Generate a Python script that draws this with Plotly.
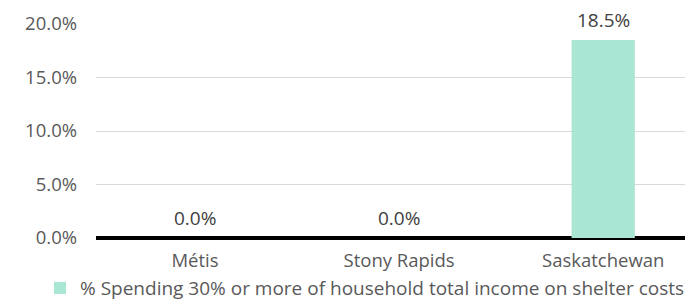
import plotly.graph_objects as go

categories = ["Métis", "Stony Rapids", "Saskatchewan"]
values = [0.0, 0.0, 0.185]
series_name = "% Spending 30% or more of household total income on shelter costs"
tick_vals = [0, 0.05, 0.10, 0.15, 0.20]
tick_text = ["0.0%", "5.0%", "10.0%", "15.0%", "20.0%"]

font_family = "Open Sans"
grey = "#595959"

fig = go.Figure()
fig.add_trace(go.Bar(
    x=categories, y=values, name=series_name,
    marker=dict(color="#a9e6d3", line=dict(width=0)), width=0.31,
    showlegend=True,
))

for c, v in zip(categories, values):
    fig.add_annotation(
        x=c, y=v, text=f"{v*100:.1f}%", showarrow=False,
        yanchor="bottom", yshift=6, borderpad=0,
        font=dict(family=font_family, size=19, color="#404040"),
    )

# page body has an 8px default margin, so the figure is sized to fit the window
fig.update_layout(
    width=685, height=292,
    margin=dict(l=88, r=0, t=16, b=62, autoexpand=False),
    paper_bgcolor="white", plot_bgcolor="white",
    font=dict(family=font_family, size=18, color=grey),
    xaxis=dict(range=[-0.485, 2.44], showgrid=False, showline=False,
               tickfont=dict(size=18.5, color=grey), ticks="",
               ticklabelstandoff=9),
    yaxis=dict(range=[0, 0.2], tickvals=tick_vals, ticktext=tick_text,
               showgrid=True, gridcolor="#d9d9d9", gridwidth=1,
               zeroline=True, zerolinecolor="black", zerolinewidth=4,
               ticklabelstandoff=18, tickfont=dict(size=18.5, color=grey)),
    legend=dict(orientation="h", x=0.4506, xanchor="center", y=-0.234, yanchor="middle",
                bgcolor="rgba(0,0,0,0)",
                font=dict(size=19, color=grey), itemwidth=30),
)

fig.write_html("out.html")
